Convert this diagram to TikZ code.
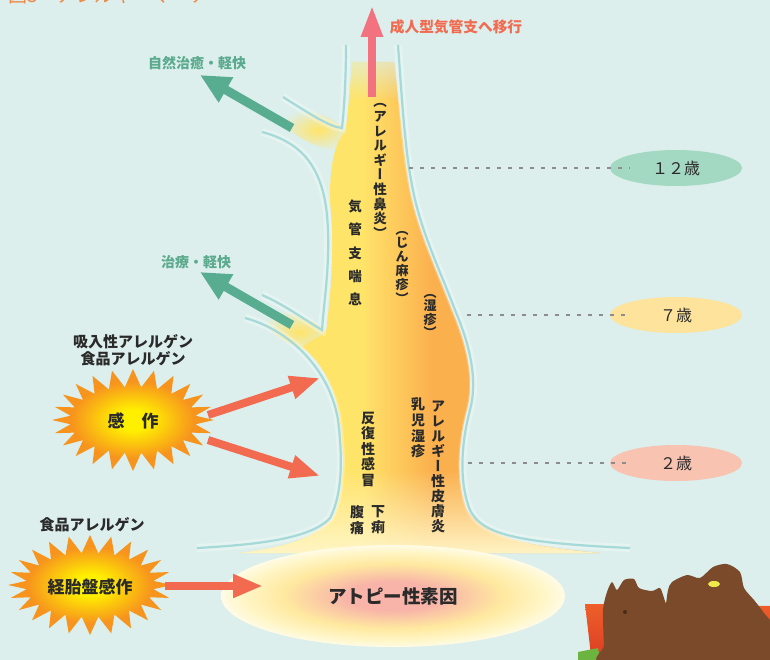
\documentclass[tikz,border=0pt]{standalone}
\usepackage{fontspec}
\newfontfamily\jp{Noto Sans CJK JP}
\newfontfamily\jpv[RawFeature=+vert]{Noto Sans CJK JP}
\usetikzlibrary{arrows.meta,shapes.geometric,fadings,calc}

\definecolor{bgmint}{HTML}{DCEFEC}
\definecolor{tubeline}{HTML}{A5DAD8}
\definecolor{trunkY}{HTML}{FFE46A}
\definecolor{trunkO}{HTML}{FBB04E}
\definecolor{paleY}{HTML}{FFF6C8}
\definecolor{redarrow}{HTML}{F26B50}
\definecolor{pinkarrow}{HTML}{F2727F}
\definecolor{greenarrow}{HTML}{58AC8F}
\definecolor{greentext}{HTML}{5BAA8E}
\definecolor{ageA}{HTML}{A3D8C2}
\definecolor{ageB}{HTML}{FDE39B}
\definecolor{ageC}{HTML}{F9C3B2}
\definecolor{inktext}{HTML}{2A2A2A}
\definecolor{titleorange}{HTML}{F08848}
\definecolor{starY}{HTML}{FFF000}
\definecolor{starO}{HTML}{F7941D}
\definecolor{atopyPink}{HTML}{F8B4A8}
\definecolor{atopyMid}{HTML}{FFE9A0}
\definecolor{atopyRim}{HTML}{FFFBE6}
\definecolor{bearbrown}{HTML}{7A4A2A}
\definecolor{boxorange}{HTML}{EE5F2A}
\definecolor{boxred}{HTML}{D93A22}
\definecolor{leafgreen}{HTML}{6DB33F}

% glow of the atopy ellipse: pink core, yellow ring, pale rim
\pgfdeclareradialshading{atopyglow}{\pgfpoint{0bp}{0bp}}{%
  color(0bp)=(atopyPink); color(7bp)=(atopyPink); color(16bp)=(atopyMid);
  color(22bp)=(paleY); color(25bp)=(atopyRim); color(50bp)=(atopyRim)}
% starburst fill: yellow core turning orange towards the spikes
\pgfdeclareradialshading{burstglow}{\pgfpoint{0bp}{0bp}}{%
  color(0bp)=(starY); color(5bp)=(starY); color(19bp)=(starO); color(50bp)=(starO)}

% starburst polygon: centre x, centre y, x radius, y radius, spike depth
\newcommand\burstshape[5]{%
  \shade[shading=burstglow] ({#1+#3},#2)
    \foreach \k in {1,...,47} {
      -- ({#1+(mod(\k,2)==0 ? #3 : #3-#5)*cos(\k*7.5)},
          {#2+(mod(\k,2)==0 ? #4 : #4-#5)*sin(\k*7.5)})
    } -- cycle;}

% airway outlines
\newcommand\outlineA{(283,97) .. controls (310,114) and (330,127) .. (342,128)
  .. controls (345,100) and (346,70) .. (346,45)}
\newcommand\outlineB{(262,132) .. controls (300,142) and (322,165) .. (327,215)
  .. controls (331,260) and (324,300) .. (322,330)
  .. controls (305,320) and (285,305) .. (262,295)}
\newcommand\outlineC{(245,318) .. controls (290,330) and (330,370) .. (338,420)
  .. controls (343,460) and (342,495) .. (330,518)
  .. controls (310,540) and (250,545) .. (197,548)}
\newcommand\outlineD{(398,45) .. controls (402,100) and (405,150) .. (412,185)
  .. controls (420,230) and (440,270) .. (455,310)
  .. controls (470,345) and (478,380) .. (470,410)
  .. controls (462,440) and (458,480) .. (470,510)
  .. controls (482,535) and (520,543) .. (630,548)}

\begin{document}
\begin{tikzpicture}[x=1pt,y=-1pt,
  tube/.style={draw=tubeline, line width=2.2pt},
  edgeglow/.style={draw=white, line width=8pt, opacity=0.28},
  dotline/.style={draw=black!45, line width=2.8pt, dash pattern=on 4pt off 7pt},
  agebubble/.style={ellipse, minimum width=132, minimum height=36, inner sep=0,
    text=inktext, font=\jp\fontsize{16}{16}\selectfont},
  jplabel/.style={inner sep=0, text=inktext, align=center,
    font=\jp\bfseries\fontsize{15}{17}\selectfont},
  greenlabel/.style={inner sep=0, text=greentext,
    font=\jp\bfseries\fontsize{14}{14}\selectfont},
  vcol/.style={inner sep=0, align=center, text=inktext},
  redarr/.style={draw=redarrow, line width=8pt, -{Triangle[length=30pt,width=22pt]}},
  greenarr/.style={draw=greenarrow, line width=9pt, -{Triangle[length=30pt,width=27pt]}},
  pinkarr/.style={draw=pinkarrow, line width=8pt, -{Triangle[length=32pt,width=20pt]}}]

\useasboundingbox (0,0) rectangle (770,660);
\clip (0,0) rectangle (770,660);
\fill[bgmint] (0,0) rectangle (770,660);

% heading, cut by the top edge
\node[anchor=base west, inner sep=0, text=titleorange,
  font=\jp\fontsize{19}{19}\selectfont] (title) at (8,3) {図3　アレルギーマーチ};

% soft glow where the branches leave the trunk
\shade[inner color=trunkY, outer color=bgmint, rotate around={-24:(318,130)}]
  (318,130) ellipse [x radius=40, y radius=15];
\shade[inner color=trunkY, outer color=bgmint, rotate around={-26:(300,332)}]
  (300,332) ellipse [x radius=42, y radius=15];

% trunk of the airway tree
\begin{scope}
  \clip (352,62) .. controls (350,90) and (348,115) .. (345,132)
    .. controls (332,145) and (328,180) .. (331,215)
    .. controls (334,260) and (330,300) .. (326,332)
    .. controls (318,338) and (308,342) .. (302,347)
    .. controls (322,362) and (336,390) .. (340,420)
    .. controls (345,460) and (344,495) .. (333,518)
    .. controls (313,540) and (280,548) .. (240,553)
    -- (600,553)
    .. controls (520,546) and (482,535) .. (467,510)
    .. controls (455,480) and (459,440) .. (467,410)
    .. controls (475,380) and (467,345) .. (452,310)
    .. controls (437,270) and (417,230) .. (409,185)
    .. controls (403,150) and (400,110) .. (394,62) -- cycle;
  \fill[trunkY] (200,40) rectangle (362,570);
  \shade[left color=trunkY, right color=trunkO] (362,40) rectangle (432,570);
  \fill[trunkO] (432,40) rectangle (620,570);
  \fill[paleY, path fading=north] (200,470) rectangle (620,556);
  \fill[bgmint, path fading=south] (200,40) rectangle (620,100);
\end{scope}

% outlines of the tree
\foreach \p in {\outlineA,\outlineB,\outlineC,\outlineD} {
  \draw[edgeglow] \p;
}
\draw[tube] \outlineA;
\draw[tube] \outlineB;
\draw[tube] \outlineC;
\draw[tube] \outlineD;

% atopic predisposition at the root
\node[ellipse, minimum width=344, minimum height=102, inner sep=0,
  shading=atopyglow, text=inktext, font=\jp\bfseries\fontsize{18.5}{19}\selectfont]
  (atopy) at (393,596) {アトピー性素因};

% age markers
\node[agebubble, fill=ageA] (age12) at (676,168) {１２歳};
\node[agebubble, fill=ageB] (age7) at (676,315) {７歳};
\node[agebubble, fill=ageC] (age2) at (676,463) {２歳};
\coordinate (lvl12) at (409,168);
\coordinate (lvl7) at (467,315);
\coordinate (lvl2) at (468,463);
\draw[dotline] (lvl12) -- ($(age12.west)+(20,0)$);
\draw[dotline] (lvl7) -- ($(age7.west)+(20,0)$);
\draw[dotline] (lvl2) -- ($(age2.west)+(20,0)$);

% diseases written down the trunk
\node[vcol, font=\jpv\bfseries\fontsize{13.5}{14.6}\selectfont] (rhin) at (380,171)
  {（\\ア\\レ\\ル\\ギ\\ー\\性\\鼻\\炎\\）};
\node[vcol, font=\jpv\bfseries\fontsize{13.5}{23.2}\selectfont] (asth) at (355,253)
  {気\\管\\支\\喘\\息};
\node[vcol, font=\jpv\bfseries\fontsize{13}{13.8}\selectfont] (urti) at (402,267)
  {（\\じ\\ん\\麻\\疹\\）};
\node[vcol, font=\jpv\bfseries\fontsize{13}{13.5}\selectfont] (ecze) at (430,316)
  {（\\湿\\疹\\）};
\node[vcol, font=\jpv\bfseries\fontsize{14}{15.5}\selectfont] (cold) at (368,449)
  {反\\復\\性\\感\\冒};
\node[vcol, font=\jpv\bfseries\fontsize{14}{15.6}\selectfont] (infe) at (418,428)
  {乳\\児\\湿\\疹};
\node[vcol, font=\jpv\bfseries\fontsize{14}{15}\selectfont] (derm) at (438,467)
  {ア\\レ\\ル\\ギ\\ー\\性\\皮\\膚\\炎};
\node[vcol, font=\jpv\bfseries\fontsize{14}{16}\selectfont] (pain) at (357,520)
  {腹\\痛};
\node[vcol, font=\jpv\bfseries\fontsize{14}{16}\selectfont] (diar) at (378,520)
  {下\\痢};

% sensitisation bursts
\burstshape{133}{420}{81}{51}{18}
\node[inner sep=0, text=inktext, font=\jp\bfseries\fontsize{17}{17}\selectfont]
  (sens) at (133,421) {感　作};
\burstshape{90}{585}{82}{50}{18}
\node[inner sep=0, text=inktext, font=\jp\bfseries\fontsize{17}{17}\selectfont]
  (trans) at (90,587) {経胎盤感作};
\node[jplabel] (allergens) at (133,350) {吸入性アレルゲン\\食品アレルゲン};
\node[jplabel] (food) at (92,525) {食品アレルゲン};

% arrows
\coordinate (sensA) at (208,415);
\coordinate (sensB) at (208,440);
\coordinate (trunkA) at (320,378);
\coordinate (trunkB) at (320,476);
\draw[redarr] (sensA) -- (trunkA);
\draw[redarr] (sensB) -- (trunkB);
\coordinate (transR) at (165,586);
\coordinate (atopyL) at (263,586);
\draw[redarr] (transR) -- (atopyL);

\coordinate (adultS) at (372,97);
\coordinate (adultE) at (372,5);
\draw[pinkarr] (adultS) -- (adultE);
\node[inner sep=0, text=redarrow, font=\jp\bfseries\fontsize{14.7}{15}\selectfont]
  (adult) at (456,27) {成人型気管支へ移行};

\coordinate (healAs) at (292,128);
\coordinate (healAe) at (200,75);
\draw[greenarr] (healAs) -- (healAe);
\node[greenlabel] (heal1) at (197,63) {自然治癒・軽快};
\coordinate (healBs) at (292,325);
\coordinate (healBe) at (200,272);
\draw[greenarr] (healBs) -- (healBe);
\node[greenlabel] (heal2) at (196,262) {治療・軽快};

% toy bears on a box, lower right corner
\shade[top color=boxorange, bottom color=boxred] (585,604) -- (772,606) -- (772,664) -- (592,664) -- cycle;
\fill[leafgreen] (578,652) -- (598,648) -- (601,664) -- (578,664) -- cycle;
\fill[bearbrown] plot[smooth cycle, tension=0.45] coordinates {
  (604,645) (603,610) (607,592) (612,582) (617,590) (624,580) (634,579)
  (639,588) (652,591) (660,588) (664,598) (666,603) (668,590) (672,582)
  (687,575) (700,578) (713,567) (727,564) (740,572) (744,588) (754,600)
  (764,613) (774,628) (774,664) (606,664)};
\fill[bearbrown!60!black] (625,612) circle [radius=2];
\fill[white!70!bearbrown!40!yellow] (714,584) ellipse [x radius=6, y radius=3];
\end{tikzpicture}
\end{document}
